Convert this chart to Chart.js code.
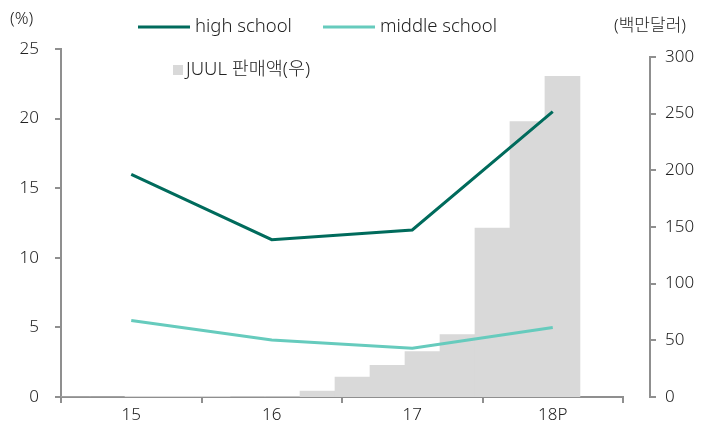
<!DOCTYPE html>
<html>
<head>
<meta charset="utf-8">
<script src="https://cdn.jsdelivr.net/npm/chart.js@4.4.1/dist/chart.umd.min.js"></script>
<style>
  html, body { margin: 0; padding: 0; background: #ffffff; }
  #wrap { width: 717px; height: 430px; }
</style>
</head>
<body>
<div id="wrap"><canvas id="c" width="717" height="430"></canvas></div>
<script>
// Survey years on the category axis
const years = ['15', '16', '17', '18P'];
// E-cigarette use rate (%), left axis
const highSchool = [16.0, 11.3, 12.0, 20.5];
const middleSchool = [5.5, 4.1, 3.5, 5.0];
// JUUL quarterly sales (USD millions), right axis
const quarters = ['15Q1', '15Q2', '15Q3', '15Q4', '16Q1', '16Q2', '16Q3', '16Q4',
                  '17Q1', '17Q2', '17Q3', '17Q4', '18Q1', '18Q2', '18Q3', '18Q4'];
const juulSales = [0, 0, 0.6, 0.6, 0.6, 0.4, 0.4, 5.3, 17.6, 28, 40, 55, 149, 243, 283, null];
// Axis tick values
const leftTicks = [0, 5, 10, 15, 20, 25];
const rightTicks = [0, 50, 100, 150, 200, 250, 300];

const FONT = "'Noto Sans', 'Noto Sans CJK KR', sans-serif";
const WEIGHT = 300;
const AXIS_GREY = '#8f8f8f';
const TEXT = '#222222';
const HS_COLOR = '#006b5c';
const MS_COLOR = '#66cbbd';
const BAR_COLOR = '#d9d9d9';

Chart.defaults.font.family = FONT;
Chart.defaults.font.size = 17;
Chart.defaults.font.weight = WEIGHT;
Chart.defaults.color = TEXT;

// keep axis boxes at fixed sizes without label overhang padding
function fixBox(w, h) {
  return function (s) {
    if (w !== null) s.width = w;
    if (h !== null) s.height = h;
    s.paddingTop = 0; s.paddingBottom = 0; s.paddingLeft = 0; s.paddingRight = 0;
  };
}

// Legend, unit captions and the detached right-hand axis line
const decor = {
  id: 'decor',
  afterDraw(chart) {
    const c = chart.ctx;
    const area = chart.chartArea;
    const s = chart.scales.y1;
    const ds = chart.data.datasets;
    c.save();

    // right axis line with outward ticks
    const ax = area.right + 27;
    c.strokeStyle = AXIS_GREY;
    c.lineWidth = 2;
    c.beginPath();
    c.moveTo(ax, s.getPixelForValue(rightTicks[0]) + 1);
    c.lineTo(ax, s.getPixelForValue(rightTicks[rightTicks.length - 1]) - 1);
    c.stroke();
    rightTicks.forEach(v => {
      const y = Math.round(s.getPixelForValue(v));
      c.beginPath();
      c.moveTo(ax - 1, y);
      c.lineTo(ax + 6, y);
      c.stroke();
    });

    c.fillStyle = TEXT;
    c.textBaseline = 'middle';
    c.textAlign = 'left';
    // unit captions
    c.font = WEIGHT + ' 17px ' + FONT;
    c.fillText('(%)', 10, 19);
    c.fillText('(백만달러)', 614, 26);

    // legend row 1: line samples
    c.font = WEIGHT + ' 18.5px ' + FONT;
    const lineItems = [
      { d: ds[0], x: 138 },
      { d: ds[1], x: 323 }
    ];
    lineItems.forEach(it => {
      c.strokeStyle = it.d.borderColor;
      c.lineWidth = 3;
      c.beginPath();
      c.moveTo(it.x, 27);
      c.lineTo(it.x + 52, 27);
      c.stroke();
      c.fillText(it.d.label, it.x + 57, 27);
    });
    // legend row 2: bar swatch
    c.fillStyle = ds[2].backgroundColor;
    c.fillRect(173, 65, 10, 10);
    c.fillStyle = TEXT;
    c.fillText(ds[2].label, 186, 70);
    c.restore();
  }
};

new Chart(document.getElementById('c'), {
  type: 'bar',
  data: {
    labels: years,
    datasets: [
      {
        type: 'line', label: 'high school', data: highSchool,
        borderColor: HS_COLOR, backgroundColor: HS_COLOR, borderWidth: 3,
        pointRadius: 0, tension: 0, xAxisID: 'x', yAxisID: 'y', order: 0
      },
      {
        type: 'line', label: 'middle school', data: middleSchool,
        borderColor: MS_COLOR, backgroundColor: MS_COLOR, borderWidth: 3,
        pointRadius: 0, tension: 0, xAxisID: 'x', yAxisID: 'y', order: 1
      },
      {
        type: 'bar', label: 'JUUL 판매액(우)',
        data: juulSales.map((v, i) => ({ x: i, y: v, q: quarters[i] })),
        backgroundColor: BAR_COLOR, borderWidth: 0,
        grouped: false, barPercentage: 1, categoryPercentage: 1,
        xAxisID: 'xq', yAxisID: 'y1', order: 5
      }
    ]
  },
  options: {
    responsive: false,
    animation: false,
    devicePixelRatio: 1,
    layout: { padding: { top: 49, left: 0, right: 0, bottom: 0 } },
    plugins: { legend: { display: false }, tooltip: { enabled: false } },
    scales: {
      x: {
        type: 'category',
        position: 'bottom',
        offset: true,
        grid: { offset: true, drawOnChartArea: false, drawTicks: true, tickLength: 6, color: AXIS_GREY, lineWidth: 2 },
        border: { display: true, color: AXIS_GREY, width: 2 },
        ticks: { padding: 2, color: TEXT, maxRotation: 0 },
        afterFit: fixBox(null, 33)
      },
      xq: {
        type: 'linear',
        display: false,
        min: -0.33,
        max: 15.73,
        offset: false,
        afterBuildTicks(s) { s.ticks = quarters.map((q, i) => ({ value: i })); }
      },
      y: {
        type: 'linear',
        position: 'left',
        min: 0, max: 25,
        afterBuildTicks(s) { s.ticks = leftTicks.map(v => ({ value: v })); },
        grid: { drawOnChartArea: false, drawTicks: true, tickLength: 6, color: AXIS_GREY, lineWidth: 2 },
        border: { display: true, color: AXIS_GREY, width: 2 },
        ticks: { padding: 16, color: TEXT },
        afterFit: fixBox(61, null)
      },
      y1: {
        type: 'linear',
        position: 'right',
        min: 0, max: 307,
        afterBuildTicks(s) { s.ticks = rightTicks.map(v => ({ value: v })); },
        grid: { display: false, drawOnChartArea: false, drawTicks: false },
        border: { display: false },
        ticks: { padding: 42, color: TEXT },
        afterFit: fixBox(94, null)
      }
    }
  },
  plugins: [decor]
});
</script>
</body>
</html>
